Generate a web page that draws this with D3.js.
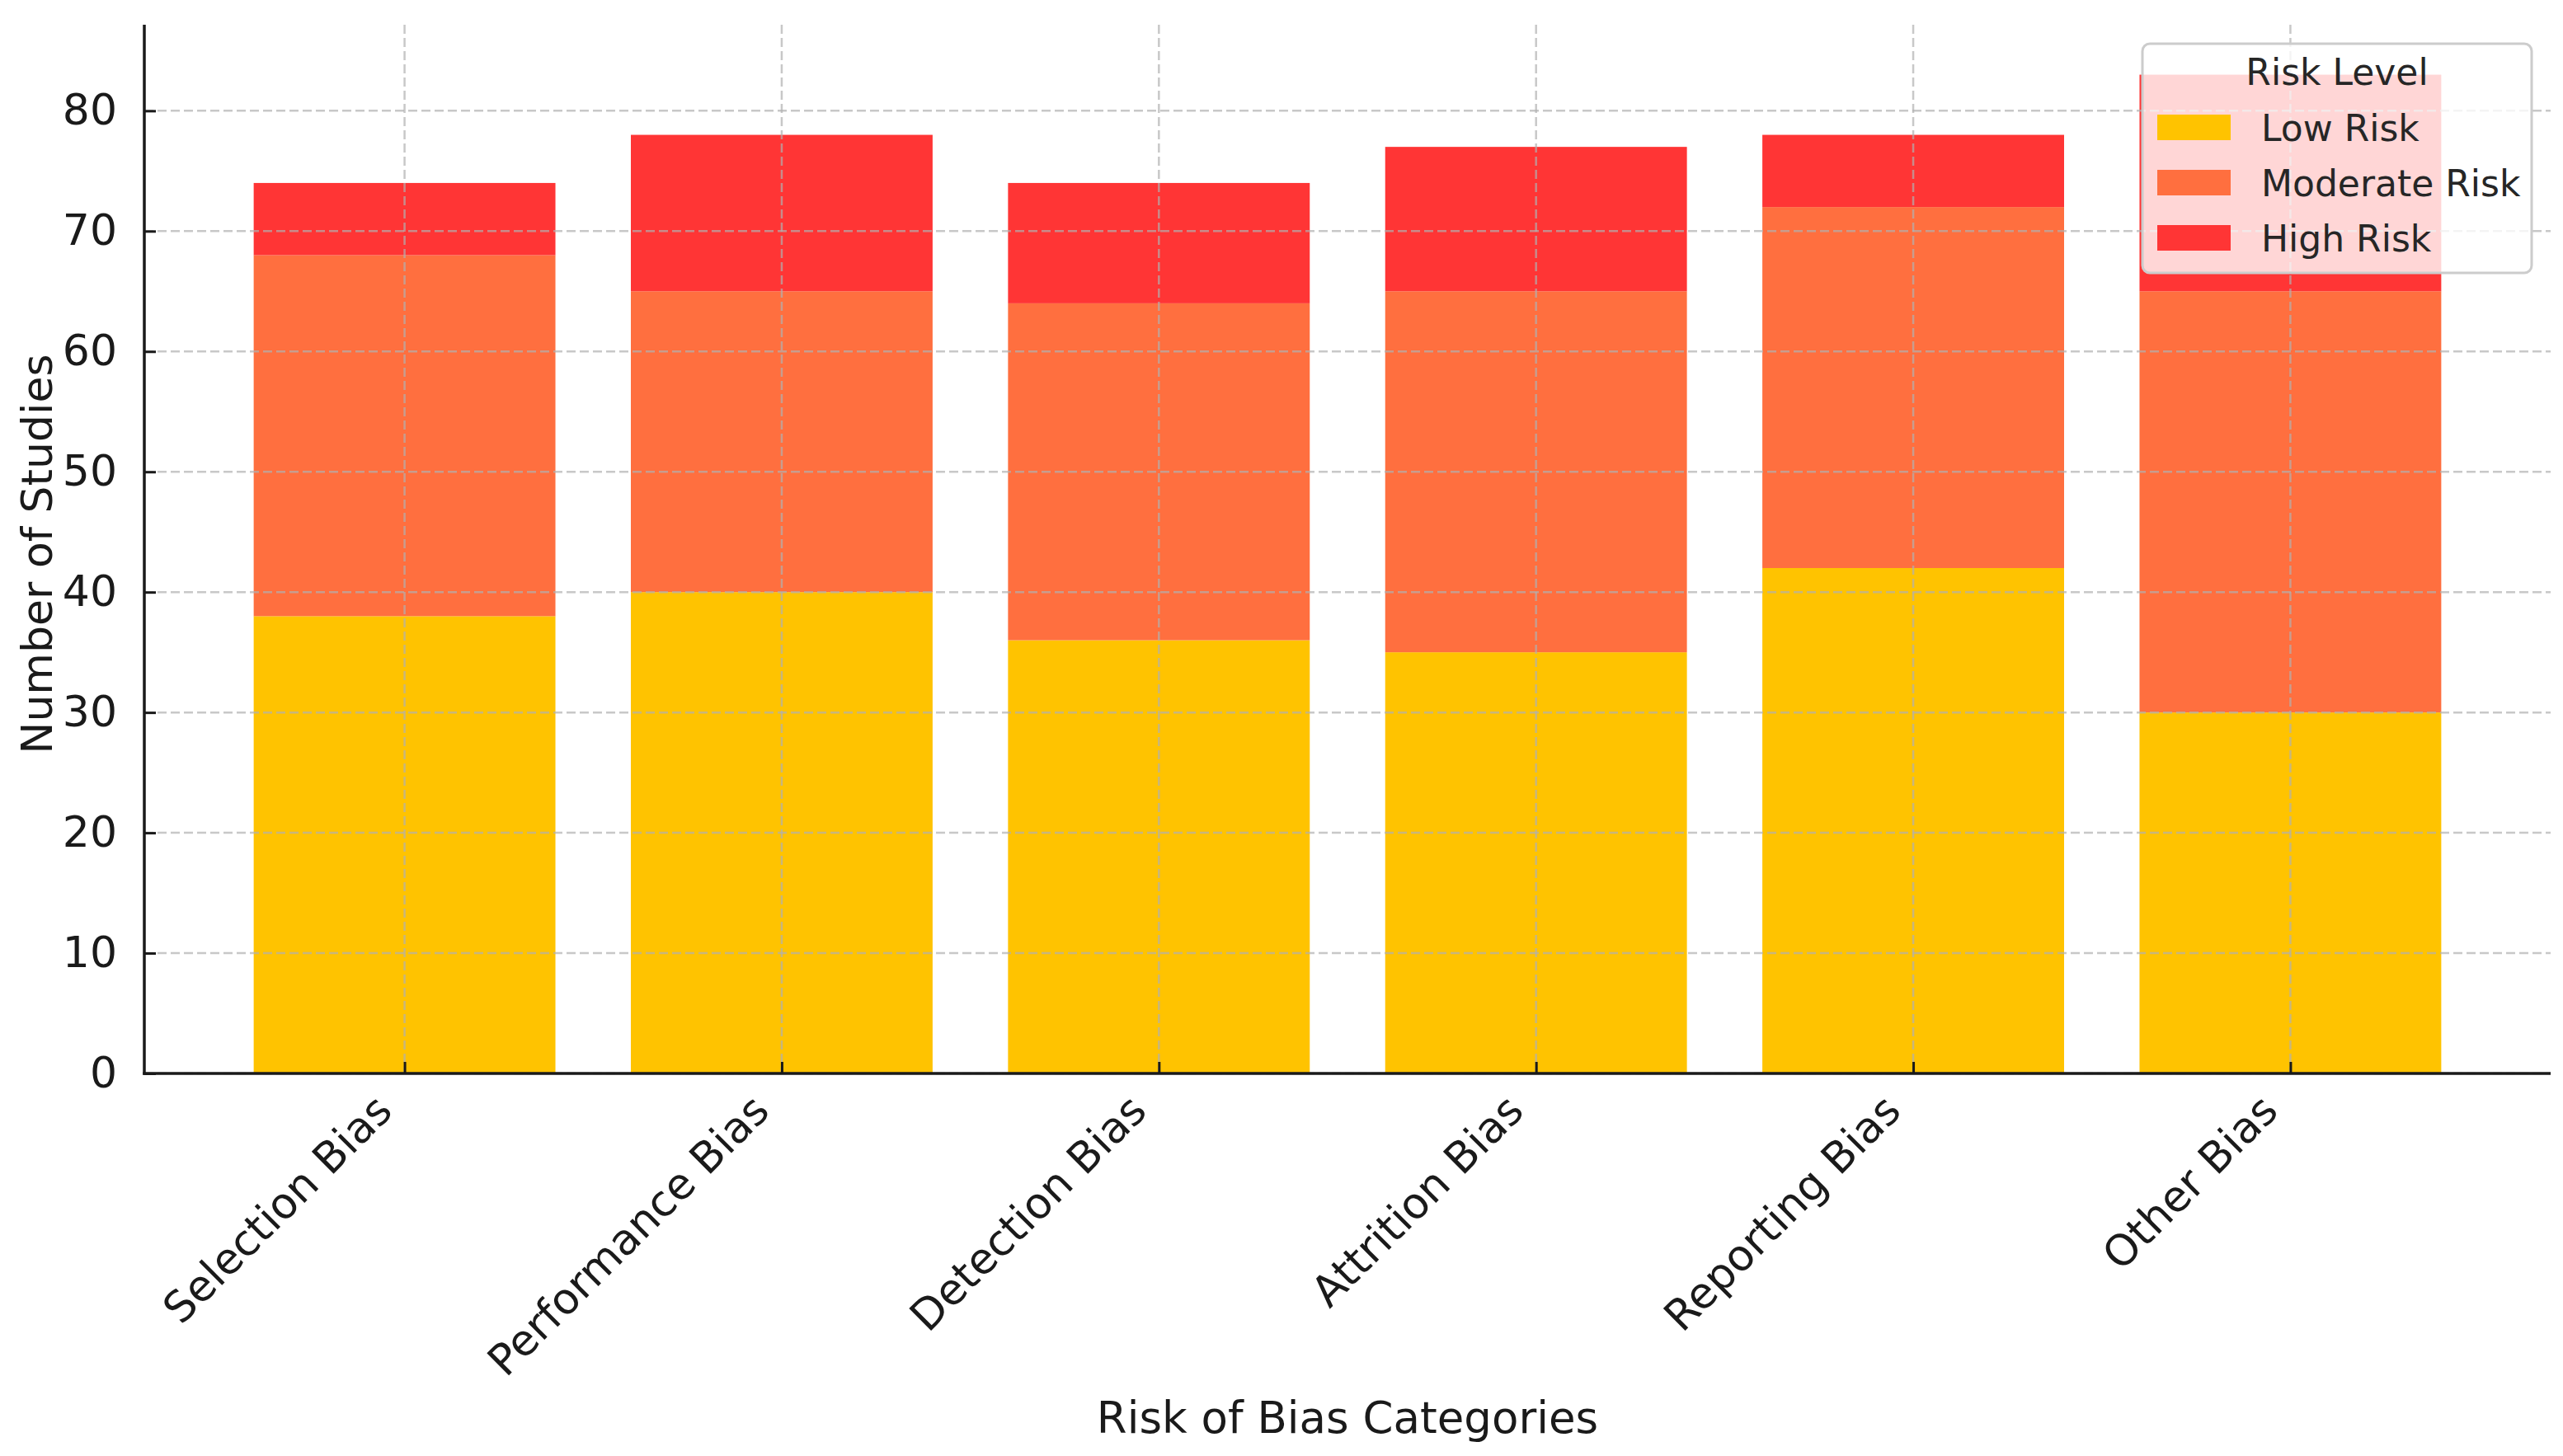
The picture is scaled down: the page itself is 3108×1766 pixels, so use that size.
<!DOCTYPE html>
<html>
<head>
<meta charset="utf-8">
<script src="https://cdn.jsdelivr.net/npm/d3@7"></script>
<style>
  html, body { margin: 0; padding: 0; background: #ffffff; }
  svg { display: block; font-family: "DejaVu Sans", sans-serif; }
</style>
</head>
<body>
<svg id="chart" width="3108" height="1766"></svg>
<script>
// ---- data ----
const categories = ["Selection Bias", "Performance Bias", "Detection Bias", "Attrition Bias", "Reporting Bias", "Other Bias"];
const lowRisk      = [38, 40, 36, 35, 42, 30];
const moderateRisk = [30, 25, 28, 30, 30, 35];
const highRisk     = [6, 13, 10, 12, 6, 18];
const seriesNames  = ["Low Risk", "Moderate Risk", "High Risk"];
const seriesColors = ["#FFC300", "#FF6F3F", "#FF3535"];
const yTicks = [0, 10, 20, 30, 40, 50, 60, 70, 80];
const xLabel = "Risk of Bias Categories";
const yLabel = "Number of Studies";
const legendTitle = "Risk Level";

// ---- layout ----
const W = 3108, H = 1766;
const plot = { left: 175, right: 3093, top: 30, bottom: 1302 };

const svg = d3.select("#chart");

const rows = categories.map((c, i) => ({
  category: c,
  "Low Risk": lowRisk[i],
  "Moderate Risk": moderateRisk[i],
  "High Risk": highRisk[i]
}));
const stacked = d3.stack().keys(seriesNames)(rows);

const total = d3.max(rows, r => r["Low Risk"] + r["Moderate Risk"] + r["High Risk"]);

// x as linear over index with matplotlib-like margins
const n = categories.length;
const barW = 0.8;
const xmin = -barW / 2, xmax = (n - 1) + barW / 2;
const xm = (xmax - xmin) * 0.05;
const x = d3.scaleLinear().domain([xmin - xm, xmax + xm]).range([plot.left, plot.right]);
const y = d3.scaleLinear().domain([0, total * 1.05]).range([plot.bottom, plot.top]);

// bars
const gBars = svg.append("g");
stacked.forEach((layer, li) => {
  gBars.selectAll(null)
    .data(layer)
    .enter()
    .append("rect")
    .attr("x", (d, i) => x(i - barW / 2))
    .attr("width", (d, i) => x(i + barW / 2) - x(i - barW / 2))
    .attr("y", d => y(d[1]))
    .attr("height", d => y(d[0]) - y(d[1]))
    .attr("fill", seriesColors[li]);
});

// grid (drawn over the bars, as in the reference)
const gridStyle = g => g.attr("stroke", "#b0b0b0").attr("stroke-opacity", 0.7)
  .attr("stroke-width", 2.5).attr("stroke-dasharray", "11,5");
const gGrid = svg.append("g");
gGrid.selectAll(null).data(yTicks).enter().append("line")
  .attr("x1", plot.left).attr("x2", plot.right)
  .attr("y1", d => y(d)).attr("y2", d => y(d))
  .call(gridStyle);
gGrid.selectAll(null).data(categories).enter().append("line")
  .attr("x1", (d, i) => x(i)).attr("x2", (d, i) => x(i))
  .attr("y1", plot.top).attr("y2", plot.bottom)
  .call(gridStyle);

// y axis
const yAxis = d3.axisLeft(y).tickValues(yTicks).tickSize(-14).tickPadding(33).tickFormat(d3.format("d"));
const gy = svg.append("g").attr("transform", `translate(${plot.left},0)`).call(yAxis);
gy.select(".domain").remove();
gy.selectAll(".tick line").attr("stroke", "#1a1a1a").attr("stroke-width", 3);
gy.selectAll(".tick text").attr("font-size", 52).attr("fill", "#1a1a1a")
  .attr("font-family", "DejaVu Sans, sans-serif");

// x axis
const xAxis = d3.axisBottom(x).tickValues(d3.range(n)).tickSize(-14).tickFormat(i => categories[i]);
const gx = svg.append("g").attr("transform", `translate(0,${plot.bottom})`).call(xAxis);
gx.select(".domain").remove();
gx.selectAll(".tick line").attr("stroke", "#1a1a1a").attr("stroke-width", 3);
gx.selectAll(".tick text")
  .attr("font-size", 52).attr("fill", "#1a1a1a")
  .attr("font-family", "DejaVu Sans, sans-serif")
  .attr("text-anchor", "end")
  .attr("x", 0).attr("y", 0).attr("dy", 0)
  .attr("transform", "translate(-13,48) rotate(-45)");

// spines
svg.append("line").attr("x1", plot.left).attr("x2", plot.left)
  .attr("y1", plot.top).attr("y2", plot.bottom + 1.75)
  .attr("stroke", "#1a1a1a").attr("stroke-width", 3.5);
svg.append("line").attr("x1", plot.left - 1.75).attr("x2", plot.right)
  .attr("y1", plot.bottom).attr("y2", plot.bottom)
  .attr("stroke", "#1a1a1a").attr("stroke-width", 3.5);

// axis labels
svg.append("text").attr("x", (plot.left + plot.right) / 2).attr("y", 1738)
  .attr("text-anchor", "middle").attr("font-size", 53).attr("fill", "#1a1a1a")
  .text(xLabel);
svg.append("text")
  .attr("transform", `translate(63,${(plot.top + plot.bottom) / 2 + 6}) rotate(-90)`)
  .attr("text-anchor", "middle").attr("font-size", 52).attr("fill", "#1a1a1a")
  .text(yLabel);

// legend
const lg = svg.append("g");
lg.append("rect").attr("x", 2598).attr("y", 53).attr("width", 472).attr("height", 278)
  .attr("rx", 9).attr("ry", 9)
  .attr("fill", "#ffffff").attr("fill-opacity", 0.8)
  .attr("stroke", "#cccccc").attr("stroke-width", 3);
lg.append("text").attr("x", 2834).attr("y", 103).attr("text-anchor", "middle")
  .attr("font-size", 44).attr("fill", "#262626").text(legendTitle);
seriesNames.forEach((name, i) => {
  const top = 139 + i * 67;
  lg.append("rect").attr("x", 2616).attr("y", top).attr("width", 89).attr("height", 31)
    .attr("fill", seriesColors[i]);
  lg.append("text").attr("x", 2742).attr("y", top + 32)
    .attr("font-size", 44).attr("fill", "#262626").text(name);
});
</script>
</body>
</html>
